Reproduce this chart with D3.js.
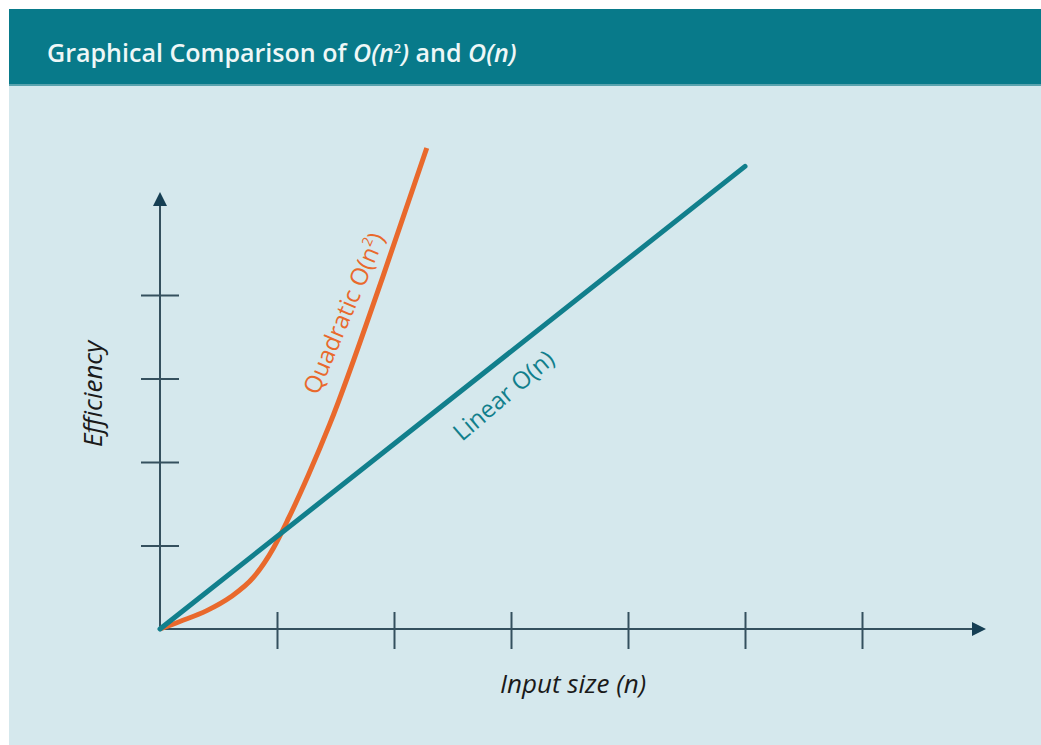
<!DOCTYPE html>
<html><head><meta charset="utf-8">
<script src="https://cdn.jsdelivr.net/npm/d3@7"></script>
<style>html,body{margin:0;padding:0;background:#fff;}svg{display:block;}</style>
</head><body>
<script>
// ---- data ----
const titleParts = ["Graphical Comparison of ", "O(n", "2", ")", " and ", "O(n)"];
const xTicks = [1, 2, 3, 4, 5, 6];
const yTicks = [1, 2, 3, 4];
const linearX = [0, 5.0];
const linearY = [0, 5.54];
const quadX = [0, 0.17, 0.40, 0.60, 0.80, 0.97, 1.10, 1.27, 1.45, 1.90, 2.28];
const quadY = [0, 0.09, 0.22, 0.38, 0.62, 0.97, 1.33, 1.85, 2.45, 4.20, 5.76];
const xAxisTitle = "Input size (n)";
const yAxisTitle = "Efficiency";
const linearLabel = "Linear O(n)";
const quadLabel = ["Quadratic O(n", "2", ")"];

const W = 1041, H = 745;
const FONT = "'Open Sans','Noto Sans',sans-serif";
const svg = d3.select("body").append("svg").attr("width", W).attr("height", H);

svg.append("rect").attr("x", 9).attr("y", 85).attr("width", W - 9).attr("height", H - 85).attr("fill", "#d5e8ed");
svg.append("rect").attr("x", 9).attr("y", 9).attr("width", W - 9).attr("height", 76).attr("fill", "#087a8a");
svg.append("rect").attr("x", 9).attr("y", 84).attr("width", W - 9).attr("height", 2).attr("fill", "#5aa3ae");

// title
const title = svg.append("text").attr("x", 47).attr("y", 62).attr("fill", "#eef7f7")
  .attr("font-family", FONT).attr("font-size", 22).attr("font-weight", 600);
title.append("tspan").text(titleParts[0]);
title.append("tspan").attr("font-style", "italic").text(titleParts[1]);
title.append("tspan").attr("font-size", 13).attr("dy", -9).text(titleParts[2]);
title.append("tspan").attr("font-style", "italic").attr("dy", 9).text(titleParts[3]);
title.append("tspan").text(titleParts[4]);
title.append("tspan").attr("font-style", "italic").text(titleParts[5]);
const tw = title.node().getBBox().width;
title.attr("font-size", 22 * 471 / tw);

const x = d3.scaleLinear().domain([0, 7]).range([160, 979]);
const y = d3.scaleLinear().domain([0, 5]).range([629, 211.5]);

const axisColor = "#34505e";
svg.append("line").attr("x1", x(0)).attr("x2", 976).attr("y1", y(0)).attr("y2", y(0))
  .attr("stroke", axisColor).attr("stroke-width", 2);
svg.append("line").attr("x1", x(0)).attr("x2", x(0)).attr("y1", y(0)).attr("y2", 204)
  .attr("stroke", axisColor).attr("stroke-width", 2);
svg.append("path").attr("d", `M${986},${y(0)} L${972},${y(0) - 7} L${972},${y(0) + 7} Z`).attr("fill", "#163f54");
svg.append("path").attr("d", `M${x(0)},${192} L${x(0) - 7},${206} L${x(0) + 7},${206} Z`).attr("fill", "#163f54");

const gx = svg.append("g").attr("transform", `translate(0,${y(0) - 17})`)
  .call(d3.axisBottom(x).tickValues(xTicks).tickSize(37).tickFormat(""));
gx.select(".domain").remove();
gx.selectAll("line").attr("stroke", axisColor).attr("stroke-width", 2);
const gy = svg.append("g").attr("transform", `translate(${x(0) - 19},0)`)
  .call(d3.axisRight(y).tickValues(yTicks).tickSize(38).tickFormat(""));
gy.select(".domain").remove();
gy.selectAll("line").attr("stroke", axisColor).attr("stroke-width", 2);

const quad = quadX.map((d, i) => [d, quadY[i]]);
const lin = linearX.map((d, i) => [d, linearY[i]]);
const lineGen = d3.line().x(d => x(d[0])).y(d => y(d[1])).curve(d3.curveMonotoneX);
svg.append("path").datum(quad).attr("d", lineGen).attr("fill", "none")
  .attr("stroke", "#e9692c").attr("stroke-width", 5).attr("stroke-linecap", "butt");
svg.append("path").datum(lin).attr("d", d3.line().x(d => x(d[0])).y(d => y(d[1])))
  .attr("fill", "none").attr("stroke", "#117f8c").attr("stroke-width", 5).attr("stroke-linecap", "round");

const ql = svg.append("text").attr("transform", "translate(318,396) rotate(-67)")
  .attr("fill", "#e9692c").attr("font-family", FONT).attr("font-size", 24);
ql.append("tspan").text(quadLabel[0]);
ql.append("tspan").attr("font-size", 14).attr("dy", -10).text(quadLabel[1]);
ql.append("tspan").attr("dy", 10).text(quadLabel[2]);

svg.append("text").attr("transform", "translate(462,442) rotate(-40.5)")
  .attr("fill", "#117f8c").attr("font-family", FONT).attr("font-size", 24).text(linearLabel);

svg.append("text").attr("x", 573).attr("y", 693).attr("text-anchor", "middle")
  .attr("font-family", FONT).attr("font-style", "italic").attr("font-size", 26).attr("fill", "#1a1a1a").text(xAxisTitle);
svg.append("text").attr("transform", "translate(102,394) rotate(-90)").attr("text-anchor", "middle")
  .attr("font-family", FONT).attr("font-style", "italic").attr("font-size", 26).attr("fill", "#1a1a1a").text(yAxisTitle);
</script>
</body></html>
